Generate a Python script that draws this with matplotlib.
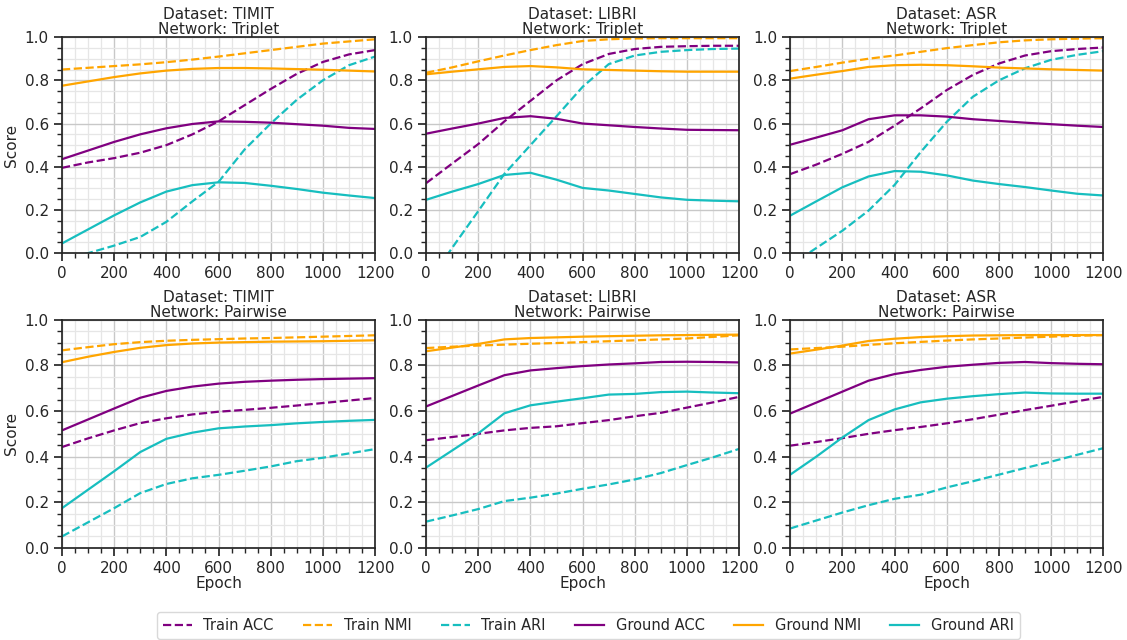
import numpy as np
import matplotlib
matplotlib.use("Agg")
import matplotlib.pyplot as plt
from matplotlib.ticker import MultipleLocator

epochs = np.arange(0, 1201, 100)
datasets = ["TIMIT", "LIBRI", "ASR"]
networks = ["Triplet", "Pairwise"]

# Triplet network
timit_tri_train_acc = [0.395, 0.42, 0.44, 0.465, 0.50, 0.55, 0.61, 0.685, 0.76, 0.83, 0.885, 0.92, 0.94]
timit_tri_train_nmi = [0.85, 0.858, 0.866, 0.874, 0.884, 0.896, 0.91, 0.925, 0.94, 0.955, 0.97, 0.98, 0.99]
timit_tri_train_ari = [-0.03, 0.0, 0.035, 0.075, 0.145, 0.24, 0.33, 0.48, 0.60, 0.71, 0.80, 0.87, 0.91]
timit_tri_ground_acc = [0.435, 0.475, 0.515, 0.55, 0.578, 0.598, 0.61, 0.608, 0.604, 0.597, 0.59, 0.58, 0.575]
timit_tri_ground_nmi = [0.775, 0.795, 0.815, 0.832, 0.845, 0.853, 0.857, 0.857, 0.855, 0.852, 0.849, 0.845, 0.841]
timit_tri_ground_ari = [0.045, 0.11, 0.175, 0.235, 0.285, 0.315, 0.328, 0.325, 0.312, 0.297, 0.28, 0.267, 0.255]

libri_tri_train_acc = [0.324, 0.415, 0.505, 0.61, 0.705, 0.80, 0.875, 0.922, 0.945, 0.955, 0.958, 0.96, 0.96]
libri_tri_train_nmi = [0.835, 0.86, 0.888, 0.915, 0.94, 0.963, 0.982, 0.99, 0.994, 0.995, 0.995, 0.995, 0.995]
libri_tri_train_ari = [-0.15, 0.025, 0.195, 0.367, 0.50, 0.634, 0.77, 0.875, 0.915, 0.932, 0.94, 0.945, 0.947]
libri_tri_ground_acc = [0.553, 0.577, 0.60, 0.626, 0.634, 0.622, 0.60, 0.592, 0.584, 0.577, 0.571, 0.57, 0.569]
libri_tri_ground_nmi = [0.828, 0.84, 0.851, 0.862, 0.866, 0.86, 0.851, 0.848, 0.845, 0.842, 0.84, 0.84, 0.84]
libri_tri_ground_ari = [0.247, 0.285, 0.32, 0.362, 0.372, 0.34, 0.302, 0.29, 0.274, 0.258, 0.247, 0.243, 0.24]

asr_tri_train_acc = [0.366, 0.41, 0.46, 0.515, 0.59, 0.67, 0.755, 0.825, 0.878, 0.915, 0.935, 0.945, 0.952]
asr_tri_train_nmi = [0.843, 0.862, 0.882, 0.90, 0.915, 0.932, 0.949, 0.963, 0.976, 0.985, 0.99, 0.993, 0.995]
asr_tri_train_ari = [-0.056, 0.024, 0.104, 0.197, 0.316, 0.468, 0.608, 0.724, 0.80, 0.856, 0.895, 0.918, 0.935]
asr_tri_ground_acc = [0.502, 0.535, 0.569, 0.62, 0.638, 0.638, 0.632, 0.62, 0.612, 0.604, 0.597, 0.59, 0.584]
asr_tri_ground_nmi = [0.808, 0.826, 0.843, 0.862, 0.87, 0.872, 0.87, 0.865, 0.859, 0.855, 0.851, 0.848, 0.845]
asr_tri_ground_ari = [0.174, 0.24, 0.305, 0.355, 0.38, 0.377, 0.36, 0.336, 0.32, 0.306, 0.29, 0.275, 0.267]

# Pairwise network
timit_pair_train_acc = [0.442, 0.48, 0.515, 0.547, 0.568, 0.585, 0.597, 0.605, 0.614, 0.624, 0.635, 0.646, 0.657]
timit_pair_train_nmi = [0.866, 0.88, 0.893, 0.902, 0.908, 0.912, 0.915, 0.918, 0.92, 0.923, 0.926, 0.929, 0.932]
timit_pair_train_ari = [0.05, 0.112, 0.174, 0.24, 0.28, 0.305, 0.32, 0.338, 0.357, 0.38, 0.395, 0.414, 0.433]
timit_pair_ground_acc = [0.515, 0.563, 0.611, 0.658, 0.688, 0.707, 0.72, 0.728, 0.733, 0.737, 0.74, 0.742, 0.744]
timit_pair_ground_nmi = [0.814, 0.838, 0.859, 0.877, 0.889, 0.896, 0.90, 0.902, 0.904, 0.905, 0.906, 0.908, 0.91]
timit_pair_ground_ari = [0.174, 0.255, 0.336, 0.42, 0.478, 0.505, 0.524, 0.532, 0.538, 0.546, 0.552, 0.557, 0.561]

libri_pair_train_acc = [0.472, 0.486, 0.50, 0.515, 0.526, 0.533, 0.547, 0.56, 0.577, 0.592, 0.615, 0.638, 0.662]
libri_pair_train_nmi = [0.876, 0.882, 0.887, 0.891, 0.895, 0.898, 0.902, 0.906, 0.91, 0.914, 0.918, 0.925, 0.932]
libri_pair_train_ari = [0.115, 0.142, 0.17, 0.205, 0.22, 0.238, 0.259, 0.278, 0.30, 0.328, 0.363, 0.397, 0.434]
libri_pair_ground_acc = [0.62, 0.666, 0.712, 0.757, 0.778, 0.788, 0.797, 0.804, 0.809, 0.815, 0.816, 0.815, 0.813]
libri_pair_ground_nmi = [0.862, 0.878, 0.894, 0.914, 0.92, 0.923, 0.926, 0.928, 0.93, 0.932, 0.933, 0.934, 0.935]
libri_pair_ground_ari = [0.352, 0.427, 0.502, 0.59, 0.625, 0.641, 0.656, 0.672, 0.675, 0.683, 0.685, 0.681, 0.678]

asr_pair_train_acc = [0.448, 0.464, 0.481, 0.50, 0.516, 0.53, 0.546, 0.564, 0.584, 0.604, 0.623, 0.643, 0.662]
asr_pair_train_nmi = [0.87, 0.876, 0.882, 0.89, 0.897, 0.903, 0.909, 0.914, 0.918, 0.922, 0.926, 0.93, 0.933]
asr_pair_train_ari = [0.085, 0.12, 0.155, 0.187, 0.215, 0.233, 0.265, 0.292, 0.321, 0.35, 0.378, 0.408, 0.437]
asr_pair_ground_acc = [0.589, 0.637, 0.685, 0.733, 0.762, 0.78, 0.794, 0.803, 0.811, 0.815, 0.81, 0.807, 0.805]
asr_pair_ground_nmi = [0.852, 0.869, 0.887, 0.907, 0.917, 0.924, 0.928, 0.931, 0.932, 0.933, 0.933, 0.933, 0.933]
asr_pair_ground_ari = [0.321, 0.40, 0.484, 0.56, 0.607, 0.638, 0.654, 0.665, 0.674, 0.681, 0.677, 0.676, 0.676]

series_labels = ["Train ACC", "Train NMI", "Train ARI", "Ground ACC", "Ground NMI", "Ground ARI"]
series_colors = ["#800080", "#FFA500", "#17BEBF", "#800080", "#FFA500", "#17BEBF"]
series_styles = ["--", "--", "--", "-", "-", "-"]

panels = {
    ("TIMIT", "Triplet"): [timit_tri_train_acc, timit_tri_train_nmi, timit_tri_train_ari,
                           timit_tri_ground_acc, timit_tri_ground_nmi, timit_tri_ground_ari],
    ("LIBRI", "Triplet"): [libri_tri_train_acc, libri_tri_train_nmi, libri_tri_train_ari,
                           libri_tri_ground_acc, libri_tri_ground_nmi, libri_tri_ground_ari],
    ("ASR", "Triplet"): [asr_tri_train_acc, asr_tri_train_nmi, asr_tri_train_ari,
                         asr_tri_ground_acc, asr_tri_ground_nmi, asr_tri_ground_ari],
    ("TIMIT", "Pairwise"): [timit_pair_train_acc, timit_pair_train_nmi, timit_pair_train_ari,
                            timit_pair_ground_acc, timit_pair_ground_nmi, timit_pair_ground_ari],
    ("LIBRI", "Pairwise"): [libri_pair_train_acc, libri_pair_train_nmi, libri_pair_train_ari,
                            libri_pair_ground_acc, libri_pair_ground_nmi, libri_pair_ground_ari],
    ("ASR", "Pairwise"): [asr_pair_train_acc, asr_pair_train_nmi, asr_pair_train_ari,
                          asr_pair_ground_acc, asr_pair_ground_nmi, asr_pair_ground_ari],
}

plt.rcParams.update({
    "font.family": "DejaVu Sans",
    "font.size": 11,
    "text.color": "#262626",
    "axes.labelcolor": "#262626",
    "xtick.color": "#262626",
    "ytick.color": "#262626",
    "axes.edgecolor": "#262626",
})

fig, axes = plt.subplots(2, 3, figsize=(11.27, 6.4), dpi=100,
                         gridspec_kw=dict(left=0.055, right=0.979, top=0.942, bottom=0.144,
                                          height_ratios=[216, 228], hspace=0.30, wspace=0.163))

for r, net in enumerate(networks):
    for c, ds in enumerate(datasets):
        ax = axes[r, c]
        for vals, lab, col, ls in zip(panels[(ds, net)], series_labels, series_colors, series_styles):
            ax.plot(epochs, vals, color=col, linestyle=ls, linewidth=1.6, label=lab)
        ax.set_xlim(0, 1200)
        ax.set_ylim(0, 1.0)
        ax.xaxis.set_major_locator(MultipleLocator(200))
        ax.xaxis.set_minor_locator(MultipleLocator(50))
        ax.yaxis.set_major_locator(MultipleLocator(0.2))
        ax.yaxis.set_minor_locator(MultipleLocator(0.05))
        ax.grid(which="major", color="#c8c8c8", linewidth=1.0)
        ax.grid(which="minor", color="#e6e6e6", linewidth=0.9)
        ax.set_axisbelow(True)
        ax.tick_params(which="major", direction="out", length=6, width=1.25, labelsize=11)
        ax.tick_params(which="minor", direction="out", length=3.5, width=1.0)
        for s in ax.spines.values():
            s.set_linewidth(1.25)
        ax.set_title(f"Dataset: {ds}\nNetwork: {net}", fontsize=11, pad=2, linespacing=1.0)
        if c == 0:
            ax.set_ylabel("Score", fontsize=11)
        if r == 1:
            ax.set_xlabel("Epoch", fontsize=11, labelpad=0)

handles, labels = axes[0, 0].get_legend_handles_labels()
fig.legend(handles, labels, loc="center", bbox_to_anchor=(0.522, 0.023), ncol=6,
           fontsize=10.5, frameon=True, edgecolor="#d0d0d0", handlelength=2.0,
           columnspacing=2.0, borderpad=0.4)

fig.savefig("out.png", dpi=100)
